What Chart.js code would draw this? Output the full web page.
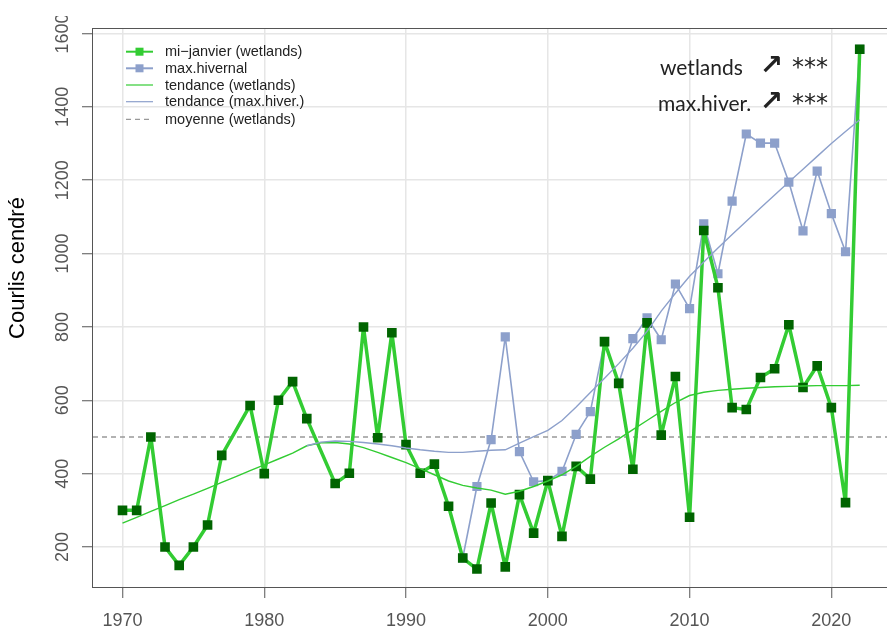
<!DOCTYPE html>
<html>
<head>
<meta charset="utf-8">
<script src="https://cdn.jsdelivr.net/npm/chart.js@4.4.1/dist/chart.umd.min.js"></script>
<style>
  html, body { margin: 0; padding: 0; background: #fff; overflow: hidden; }
  canvas { display: block; }
</style>
</head>
<body>
<canvas id="courlisChart" width="896" height="628"></canvas>
<script>
// mi-janvier counts in wetlands (no count for 1978 and 1984)
var wetYears = [1970, 1971, 1972, 1973, 1974, 1975, 1976, 1977, 1979, 1980,
    1981, 1982, 1983, 1985, 1986, 1987, 1988, 1989, 1990, 1991,
    1992, 1993, 1994, 1995, 1996, 1997, 1998, 1999, 2000, 2001,
    2002, 2003, 2004, 2005, 2006, 2007, 2008, 2009, 2010, 2011,
    2012, 2013, 2014, 2015, 2016, 2017, 2018, 2019, 2020, 2021, 2022];
var wetValues = [300, 300, 500, 200, 150, 200, 260, 450, 586, 400,
    600, 651, 550, 373, 401, 800, 498, 784, 479, 401,
    426, 311, 170, 140, 320, 146, 343, 238, 381, 229,
    420, 385, 760, 646, 412, 811, 505, 665, 281, 1063,
    907, 580, 575, 662, 686, 806, 635, 694, 580, 321, 1557];

// winter maximum
var maxYears = [1994, 1995, 1996, 1997, 1998, 1999, 2000, 2001, 2002, 2003,
    2004, 2005, 2006, 2007, 2008, 2009, 2010, 2011, 2012, 2013,
    2014, 2015, 2016, 2017, 2018, 2019, 2020, 2021, 2022];
var maxValues = [170, 365, 493, 773, 460, 378, 381, 406, 507, 569,
    760, 646, 768, 825, 765, 917, 850, 1081, 945, 1143,
    1326, 1301, 1301, 1195, 1062, 1225, 1109, 1005, 1557];

// smoothed trends
var trendWetYears = [1970, 1971, 1972, 1973, 1974, 1975, 1976, 1977, 1978, 1979,
    1980, 1981, 1982, 1983, 1984, 1985, 1986, 1987, 1988, 1989,
    1990, 1991, 1992, 1993, 1994, 1995, 1996, 1997, 1998, 1999,
    2000, 2001, 2002, 2003, 2004, 2005, 2006, 2007, 2008, 2009,
    2010, 2011, 2012, 2013, 2014, 2015, 2016, 2017, 2018, 2019,
    2020, 2021, 2022];
var trendWetValues = [265, 281, 297, 313, 329, 344, 360, 376, 392, 408,
    424, 440, 456, 476, 484, 485, 481, 471, 458, 444,
    430, 414, 397, 380, 368, 361, 355, 344, 352, 365,
    380, 397, 420, 447, 472, 495, 520, 545, 570, 594,
    613, 622, 627, 630, 633, 635, 637, 638, 639, 640,
    640, 640, 641];
var trendMaxYears = [1983, 1984, 1985, 1986, 1987, 1988, 1989,
    1990, 1991, 1992, 1993, 1994, 1995, 1996, 1997, 1998, 1999,
    2000, 2001, 2002, 2003, 2004, 2005, 2006, 2007, 2008, 2009,
    2010, 2011, 2012, 2013, 2014, 2015, 2016, 2017, 2018, 2019,
    2020, 2021, 2022];
var trendMaxValues = [476, 486, 489, 488, 485, 481, 476,
    470, 465, 461, 458, 458, 461, 464, 465, 483, 501,
    518, 545, 582, 621, 660, 700, 742, 788, 843, 892,
    938, 977, 1015, 1052, 1088, 1124, 1160, 1195, 1230, 1265,
    1300, 1333, 1365];

var meanWet = 500;

var xTicks = [1970, 1980, 1990, 2000, 2010, 2020];
var yTicks = [200, 400, 600, 800, 1000, 1200, 1400, 1600];
var xMin = 1967.92, xMax = 2024.08;
var yMin = 91, yMax = 1615;

var legendLabels = ['mi\u2212janvier (wetlands)', 'max.hivernal', 'tendance (wetlands)',
    'tendance (max.hiver.)', 'moyenne (wetlands)'];
var yTitle = 'Courlis cendré';
var trendNotes = [['wetlands', '\u2197', '***'], ['max.hiver.', '\u2197', '***']];

var GREEN = '#33CC33';
var DARKGREEN = '#006400';
var BLUE = '#8DA0CB';
var AXIS = '#555555';

function toPoints(xs, ys) {
    return xs.map(function(x, i) {
        return { x: x, y: ys[i] };
    });
}

// axis labels, box, legend and the trend notes
var decorations = {
    id: 'decorations',
    afterDraw: function(chart) {
        var ctx = chart.ctx;
        var a = chart.chartArea;
        var xs = chart.scales.x;
        var ys = chart.scales.y;
        ctx.save();

        ctx.strokeStyle = AXIS;
        ctx.lineWidth = 1;
        ctx.strokeRect(a.left - 0.5, a.top + 0.5, a.right - a.left, a.bottom - a.top);

        ctx.fillStyle = AXIS;
        ctx.font = '18px "Liberation Sans"';
        ctx.textAlign = 'center';
        ctx.textBaseline = 'alphabetic';
        xTicks.forEach(function(v) {
            ctx.fillText(String(v), xs.getPixelForValue(v), 626);
        });

        ctx.save();
        ctx.beginPath();
        ctx.rect(0, 16, 92, 628);
        ctx.clip();
        yTicks.forEach(function(v) {
            ctx.save();
            ctx.translate(68, ys.getPixelForValue(v));
            ctx.rotate(-Math.PI / 2);
            ctx.fillText(String(v), 0, 0);
            ctx.restore();
        });
        ctx.restore();

        ctx.save();
        ctx.fillStyle = '#000';
        ctx.font = '22px "Liberation Sans"';
        ctx.textBaseline = 'middle';
        ctx.translate(18, 268);
        ctx.rotate(-Math.PI / 2);
        ctx.fillText(yTitle, 0, 0);
        ctx.restore();

        // legend
        var lx0 = 126, lx1 = 153, tx = 165;
        var rows = [51.7, 68.3, 85, 101.7, 119.3];
        ctx.font = '14.5px "Liberation Sans"';
        ctx.textAlign = 'left';
        ctx.textBaseline = 'middle';
        legendLabels.forEach(function(lbl, i) {
            var y = rows[i];
            ctx.save();
            if (i == 0 || i == 2) ctx.strokeStyle = GREEN;
            else if (i == 1 || i == 3) ctx.strokeStyle = BLUE;
            else ctx.strokeStyle = '#999';
            ctx.lineWidth = (i < 2) ? 2 : 1.2;
            if (i == 4) ctx.setLineDash([5, 4]);
            ctx.beginPath();
            ctx.moveTo(lx0, y);
            ctx.lineTo(lx1, y);
            ctx.stroke();
            if (i < 2) {
                ctx.fillStyle = i == 0 ? GREEN : BLUE;
                ctx.fillRect(139.5 - 4, y - 4, 8, 8);
            }
            ctx.restore();
            ctx.fillStyle = '#222';
            ctx.fillText(lbl, tx, y + 0.5);
        });

        // trend significance notes
        ctx.fillStyle = '#222';
        ctx.textBaseline = 'alphabetic';
        var noteRows = [{ lx: 660, base: 75 }, { lx: 658, base: 111 }];
        trendNotes.forEach(function(n, i) {
            var r = noteRows[i];
            ctx.textAlign = 'left';
            ctx.font = '21px Lato';
            ctx.fillText(n[0], r.lx, r.base);
            ctx.textAlign = 'center';
            ctx.font = 'bold 28px "DejaVu Sans"';
            ctx.fillText(n[1], 771.5, r.base - 1);
            ctx.textAlign = 'left';
            ctx.font = '24px "DejaVu Sans"';
            ctx.fillText(n[2], 792, r.base);
        });

        ctx.restore();
    }
};

var chart = new Chart(document.getElementById('courlisChart'), {
    type: 'line',
    data: {
        datasets: [{
            label: 'tendance (max.hiver.)',
            data: toPoints(trendMaxYears, trendMaxValues),
            borderColor: BLUE,
            borderWidth: 1.4,
            pointRadius: 0
        }, {
            label: 'tendance (wetlands)',
            data: toPoints(trendWetYears, trendWetValues),
            borderColor: GREEN,
            borderWidth: 1.4,
            pointRadius: 0
        }, {
            label: 'mi-janvier (wetlands)',
            data: toPoints(wetYears, wetValues),
            borderColor: GREEN,
            borderWidth: 3.5,
            borderJoinStyle: 'round',
            pointStyle: 'rect',
            pointRadius: 6.8,
            pointBorderWidth: 0,
            pointBackgroundColor: DARKGREEN
        }, {
            label: 'max.hivernal',
            data: toPoints(maxYears, maxValues),
            borderColor: BLUE,
            borderWidth: 1.6,
            borderJoinStyle: 'round',
            pointStyle: 'rect',
            pointRadius: 6.5,
            pointBorderWidth: 0,
            pointBackgroundColor: BLUE
        }, {
            label: 'moyenne (wetlands)',
            data: [{ x: xMin, y: meanWet }, { x: xMax, y: meanWet }],
            borderColor: '#999999',
            borderWidth: 1.3,
            borderDash: [5, 4],
            pointRadius: 0
        }]
    },
    options: {
        responsive: false,
        animation: false,
        devicePixelRatio: 1,
        layout: { padding: { top: 28, right: 0, left: 0, bottom: 0 } },
        plugins: {
            legend: { display: false },
            tooltip: { enabled: false }
        },
        scales: {
            x: {
                type: 'linear',
                min: xMin,
                max: xMax,
                afterBuildTicks: function(s) {
                    s.ticks = xTicks.map(function(v) { return { value: v }; });
                },
                afterFit: function(s) { s.height = 41; },
                ticks: { display: false },
                border: { display: false },
                grid: { color: '#e6e6e6', lineWidth: 1.5, tickLength: 11, tickColor: AXIS, tickWidth: 1 }
            },
            y: {
                type: 'linear',
                min: yMin,
                max: yMax,
                afterBuildTicks: function(s) {
                    s.ticks = yTicks.map(function(v) { return { value: v }; });
                },
                afterFit: function(s) { s.width = 93; },
                ticks: { display: false },
                border: { display: false },
                grid: { color: '#e6e6e6', lineWidth: 1.5, tickLength: 11, tickColor: AXIS, tickWidth: 1 }
            }
        }
    },
    plugins: [decorations]
});
</script>
</body>
</html>
